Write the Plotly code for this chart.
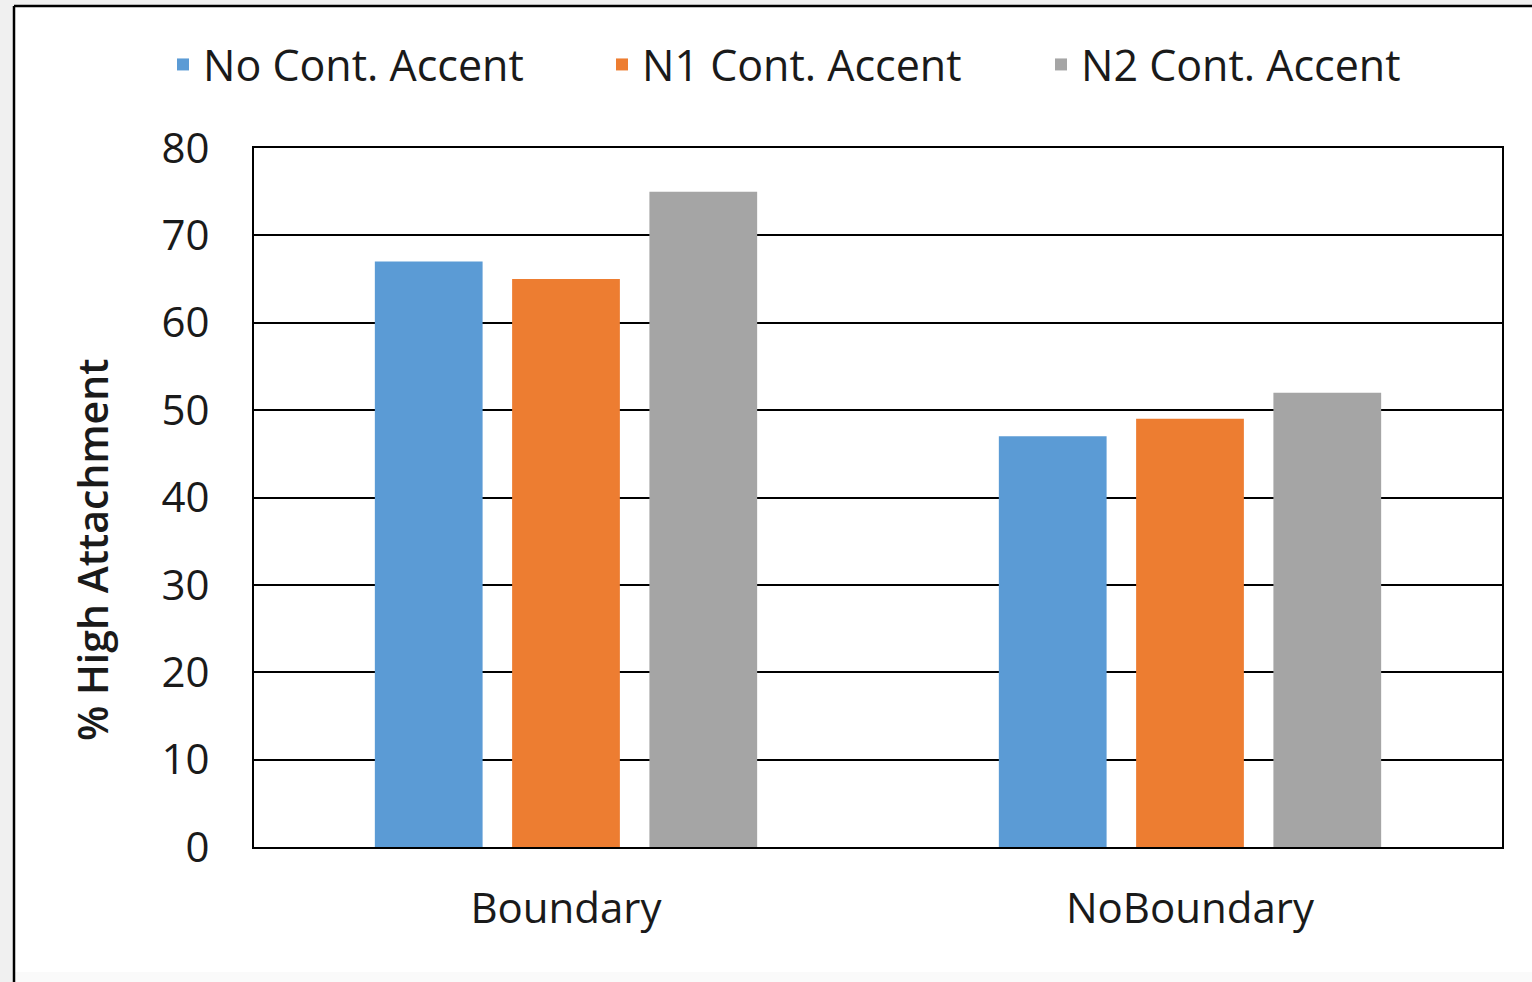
import plotly.graph_objects as go

categories = ["Boundary", "NoBoundary"]
series_names = ["No Cont. Accent", "N1 Cont. Accent", "N2 Cont. Accent"]
no_cont = [67, 47]
n1_cont = [65, 49]
n2_cont = [75, 52]
y_ticks = [0, 10, 20, 30, 40, 50, 60, 70, 80]
colors = ["#5B9BD5", "#ED7D31", "#A5A5A5"]

W, H = 1532, 982
L, R, T, B = 254, 30, 148, 135
pw, ph = W - L - R, H - T - B

def px_x(p):
    return (p - L) / pw

def px_y(p):
    return (H - B - p) / ph

FONT = "Open Sans"
TXT = "#1a1a1a"

fig = go.Figure()
for name, vals, c in zip(series_names, [no_cont, n1_cont, n2_cont], colors):
    fig.add_trace(go.Bar(x=categories, y=vals, name=name, marker=dict(color=c, line=dict(width=0))))

fig.update_layout(
    width=W, height=H,
    margin=dict(l=L, r=R, t=T, b=B, autoexpand=False),
    paper_bgcolor="#f0f0f0",
    plot_bgcolor="white",
    barmode="group",
    bargap=0.34,
    bargroupgap=0.215,
    font=dict(family=FONT, color=TXT, size=41),
    showlegend=True,
    legend=dict(
        orientation="h",
        x=px_x(163), y=px_y(30), xanchor="left", yanchor="top",
        bgcolor="rgba(0,0,0,0)",
        font=dict(size=43, family=FONT, color=TXT),
        entrywidth=394, entrywidthmode="pixels",
        traceorder="normal",
    ),
    xaxis=dict(
        showgrid=False, showline=True, linecolor="black", linewidth=2, mirror=True,
        ticks="", tickfont=dict(size=42), ticklabelstandoff=24,
    ),
    yaxis=dict(
        range=[0, 80], tickvals=y_ticks, showgrid=True, gridcolor="black", gridwidth=2,
        showline=True, linecolor="black", linewidth=2, mirror=True, zeroline=False,
        ticks="", tickfont=dict(size=42), ticklabelstandoff=34,
    ),
    shapes=[
        dict(type="rect", xref="paper", yref="paper", x0=px_x(14), x1=px_x(1545),
             y0=px_y(972), y1=px_y(6), fillcolor="white", line=dict(width=0), layer="below"),
        dict(type="rect", xref="paper", yref="paper", x0=px_x(14), x1=px_x(1545),
             y0=px_y(990), y1=px_y(972), fillcolor="#fafafa", line=dict(width=0), layer="below"),
        dict(type="line", xref="paper", yref="paper", x0=px_x(14), x1=px_x(14),
             y0=px_y(990), y1=px_y(6), line=dict(color="black", width=2.5), layer="below"),
        dict(type="line", xref="paper", yref="paper", x0=px_x(14), x1=px_x(1545),
             y0=px_y(6), y1=px_y(6), line=dict(color="black", width=2.5), layer="below"),
    ],
    annotations=[
        dict(text="% High Attachment", textangle=-90, xref="paper", yref="paper",
             x=px_x(92), y=px_y(550), xanchor="center", yanchor="middle", showarrow=False,
             font=dict(size=41, family=FONT, color=TXT, weight=600)),
    ],
)

fig.write_html("out.html")
